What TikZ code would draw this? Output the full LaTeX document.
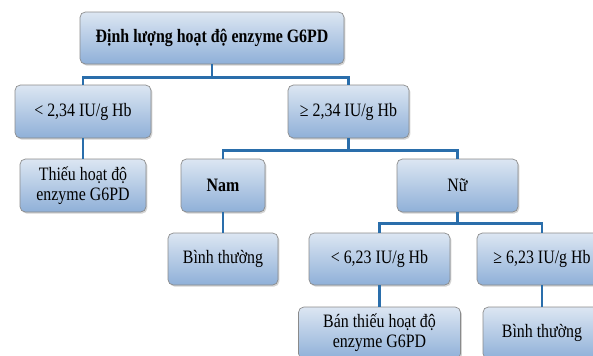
\documentclass[tikz,border=0pt]{standalone}
\usepackage{fontspec}
\setmainfont[FakeStretch=0.84]{Liberation Serif}
\usetikzlibrary{shadows}
\definecolor{boxtop}{HTML}{DCE6F2}
\definecolor{boxbottom}{HTML}{8FB0D8}
\definecolor{boxline}{HTML}{8A8A8A}
\definecolor{linkblue}{HTML}{2A6EAB}
\tikzset{
	box/.style={draw=boxline, line width=0.5pt, rounded corners=4pt,
		top color=boxtop, bottom color=boxbottom, align=center, inner sep=0pt,
		font=\fontsize{14.2}{15}\selectfont,
		drop shadow={shadow xshift=1pt, shadow yshift=-1.2pt, opacity=0.35}
	},
	bold/.style={font=\fontsize{14.2}{15}\selectfont\bfseries},
	boxsize/.style 2 args={minimum width=#1*0.75pt, minimum height=#2*0.75pt},
	link/.style={draw=linkblue, line width=2pt},
	fork/.style={to path={(\tikztostart) -- ++(0,#1) -| (\tikztotarget)}}
}

\begin{document}
\begin{tikzpicture}[x=0.75pt,y=-0.75pt]
		\useasboundingbox (0,0) rectangle (593,355);
		\clip (0,0) rectangle (593,355);
		\node[box,bold,boxsize={264}{52}] (root) at (212,38) {Định lượng hoạt độ enzyme G6PD};
		\node[box,boxsize={136}{53}] (low) at (83,111.5) {< 2,34 IU/g Hb};
		\node[box,boxsize={121}{53}] (high) at (348.5,111.5) {≥ 2,34 IU/g Hb};
		\node[box,boxsize={126}{53}] (lack) at (83,185.5) {Thiếu hoạt độ\\enzyme G6PD};
		\node[box,bold,boxsize={84}{53}] (nam) at (223,185.5) {Nam};
		\node[box,boxsize={121}{53}] (nu) at (457.5,185.5) {Nữ};
		\node[box,boxsize={110}{52}] (namok) at (223,259) {Bình thường};
		\node[box,boxsize={141}{52}] (nulow) at (379.5,259) {< 6,23 IU/g Hb};
		\node[box,boxsize={130}{52}] (nuhigh) at (542,259) {≥ 6,23 IU/g Hb};
		\node[box,boxsize={162}{52}] (half) at (379.5,333) {Bán thiếu hoạt độ\\enzyme G6PD};
		\node[box,boxsize={118}{52}] (nuok) at (542,333) {Bình thường};
		\draw[link] (root.south) to[fork=13] (low.north) (root.south) to[fork=13] (high.north);
		\draw[link] (low.south) -- (lack.north);
		\draw[link] (high.south) to[fork=12] (nam.north) (high.south) to[fork=12] (nu.north);
		\draw[link] (nam.south) -- (namok.north);
		\draw[link] (nu.south) to[fork=11] (nulow.north) (nu.south) to[fork=11] (nuhigh.north);
		\draw[link] (nulow.south) -- (half.north);
		\draw[link] (nuhigh.south) -- (nuok.north);
\end{tikzpicture}
\end{document}
